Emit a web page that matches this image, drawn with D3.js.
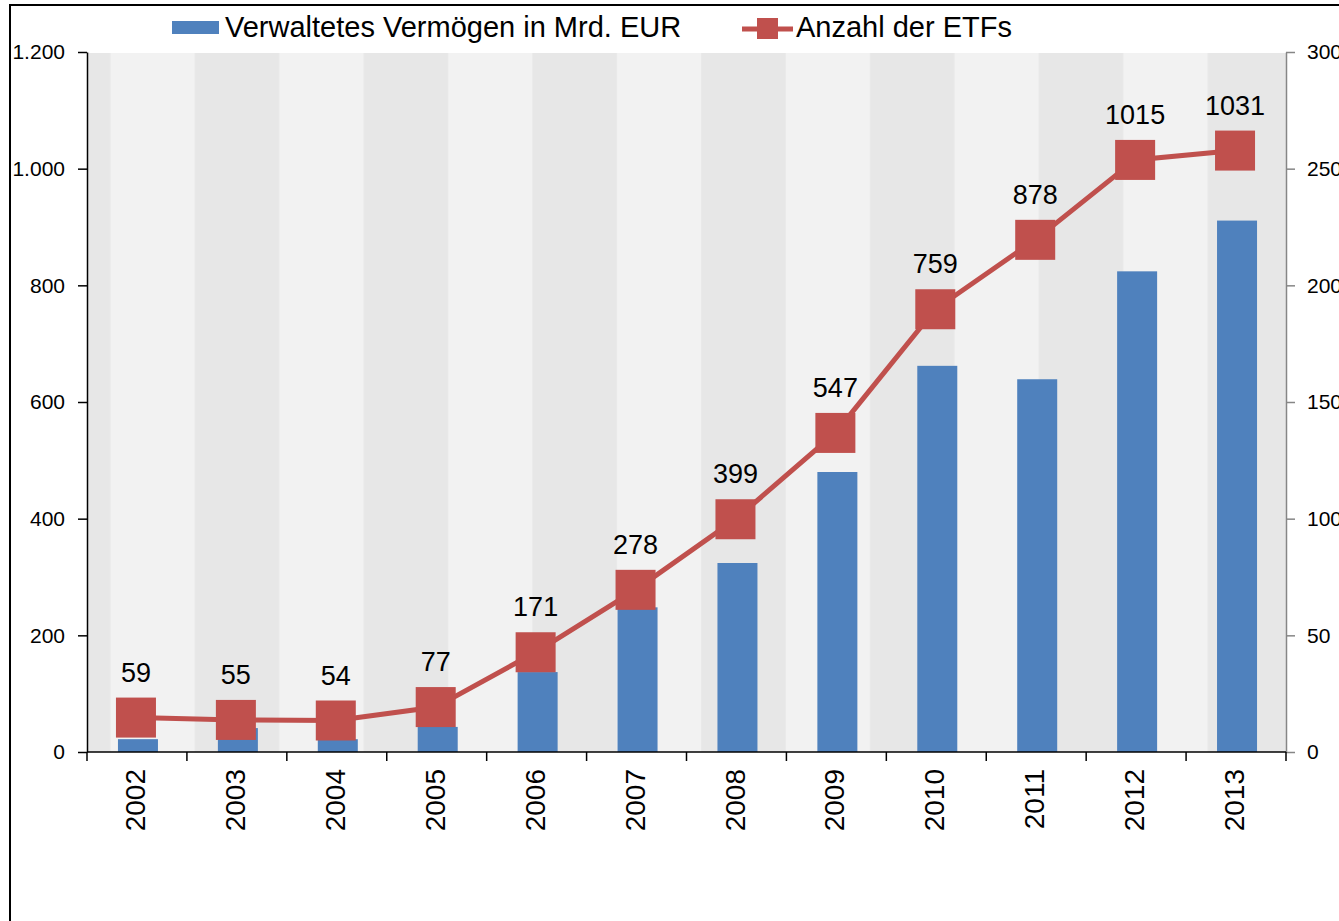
<!DOCTYPE html>
<html>
<head>
<meta charset="utf-8">
<script src="https://cdn.jsdelivr.net/npm/d3@7"></script>
<style>
  html, body { margin: 0; padding: 0; background: #fff; overflow: hidden; }
  text { font-family: Arial, "Liberation Sans", sans-serif; }
</style>
</head>
<body>
<div id="chart"></div>
<script>
const years = ['2002', '2003', '2004', '2005', '2006', '2007', '2008', '2009', '2010', '2011', '2012', '2013']
const assets = [22, 41, 22, 43, 137, 248, 324, 480, 662, 639, 824, 911]
const etfCount = [59, 55, 54, 77, 171, 278, 399, 547, 759, 878, 1015, 1031]
const leftTicks = [0, 200, 400, 600, 800, 1000, 1200]
const rightTicks = [0, 50, 100, 150, 200, 250, 300]

const width = 1339
const height = 921
const margin = { top: 52, right: 53, bottom: 169, left: 87 }
const plotW = width - margin.left - margin.right
const plotH = height - margin.top - margin.bottom

const blue = '#4f81bd'
const red = '#c0504d'

const svg = d3.select('#chart')
  .append('svg')
  .attr('width', width)
  .attr('height', height)

// outer frame (right and bottom edges run off the page)
svg.append('rect')
  .attr('x', 10)
  .attr('y', 5)
  .attr('width', width)
  .attr('height', height)
  .attr('fill', 'none')
  .attr('stroke', '#000')
  .attr('stroke-width', 2)

// striped plot background
const defs = svg.append('defs')
const stripes = defs.append('pattern')
  .attr('id', 'stripes')
  .attr('patternUnits', 'userSpaceOnUse')
  .attr('x', 110.7)
  .attr('y', 0)
  .attr('width', 168.8)
  .attr('height', 10)
stripes.append('rect').attr('width', 84.4).attr('height', 10).attr('fill', '#f2f2f2')
stripes.append('rect').attr('x', 84.4).attr('width', 84.4).attr('height', 10).attr('fill', '#e7e7e7')
stripes.append('rect').attr('x', 83.9).attr('width', 1).attr('height', 10).attr('fill', '#e9e9e9')
stripes.append('rect').attr('x', 168.3).attr('width', 1).attr('height', 10).attr('fill', '#ebebeb')

svg.append('rect')
  .attr('x', margin.left)
  .attr('y', margin.top + 1)
  .attr('width', plotW)
  .attr('height', plotH - 1)
  .attr('fill', 'url(#stripes)')

const g = svg.append('g')
  .attr('transform', `translate(${margin.left}, ${margin.top})`)

const xScale = d3.scaleBand()
  .domain(years)
  .range([0, plotW])
  .padding(0)

const yScale = d3.scaleLinear()
  .domain([0, 1200])
  .range([plotH, 0])

const yRight = d3.scaleLinear()
  .domain([0, 300])
  .range([plotH, 0])

const de = d3.formatLocale({ decimal: ',', thousands: '.', grouping: [3], currency: ['', ' €'] })
const fmt = de.format(',')

// bars
const barW = 40
g.selectAll('.bar')
  .data(years)
  .enter()
  .append('rect')
  .attr('class', 'bar')
  .attr('x', d => xScale(d) + xScale.bandwidth() / 2 - barW / 2 + 1)
  .attr('y', (d, i) => yScale(assets[i]))
  .attr('width', barW)
  .attr('height', (d, i) => plotH - yScale(assets[i]))
  .attr('fill', blue)

// left axis
const leftAxis = g.append('g')
  .call(d3.axisLeft(yScale).tickValues(leftTicks).tickFormat(fmt).tickSize(9).tickPadding(13).tickSizeOuter(0))
leftAxis.select('.domain').attr('stroke', '#000').attr('stroke-width', 1.5)
leftAxis.selectAll('.tick line').attr('stroke', '#000').attr('stroke-width', 1.5)
leftAxis.selectAll('.tick text').attr('font-size', 21).attr('fill', '#000')

// right axis
const rightAxis = g.append('g')
  .attr('transform', `translate(${plotW}, 0)`)
  .call(d3.axisRight(yRight).tickValues(rightTicks).tickSize(9).tickPadding(12).tickSizeOuter(0))
rightAxis.select('.domain').attr('stroke', '#868686').attr('stroke-width', 1.5)
rightAxis.selectAll('.tick line').attr('stroke', '#868686').attr('stroke-width', 1.5)
rightAxis.selectAll('.tick text').attr('font-size', 21).attr('fill', '#000')

// x axis with ticks on band edges
const xAxis = g.append('g')
  .attr('transform', `translate(0, ${plotH})`)
xAxis.append('line')
  .attr('x1', 0)
  .attr('x2', plotW)
  .attr('stroke', '#000')
  .attr('stroke-width', 1.5)
xAxis.selectAll('.edge')
  .data(years.concat(['end']))
  .enter()
  .append('line')
  .attr('class', 'edge')
  .attr('x1', d => d === 'end' ? plotW : xScale(d))
  .attr('x2', d => d === 'end' ? plotW : xScale(d))
  .attr('y1', 0)
  .attr('y2', 9)
  .attr('stroke', '#000')
  .attr('stroke-width', 1.5)
xAxis.selectAll('.year')
  .data(years)
  .enter()
  .append('text')
  .attr('class', 'year')
  .attr('transform', d => `translate(${xScale(d) + xScale.bandwidth() / 2 - 2}, 17) rotate(-90)`)
  .attr('text-anchor', 'end')
  .attr('dy', '0.36em')
  .attr('font-size', 28)
  .attr('fill', '#000')
  .text(d => d)

// line
const cx = d => xScale(d) + xScale.bandwidth() / 2 - 1
const line = d3.line()
  .x(d => cx(d))
  .y((d, i) => yScale(etfCount[i]))
g.append('path')
  .datum(years)
  .attr('d', line)
  .attr('fill', 'none')
  .attr('stroke', red)
  .attr('stroke-width', 5)

const mk = 40
g.selectAll('.marker')
  .data(years)
  .enter()
  .append('rect')
  .attr('class', 'marker')
  .attr('x', d => cx(d) - mk / 2)
  .attr('y', (d, i) => yScale(etfCount[i]) - mk / 2)
  .attr('width', mk)
  .attr('height', mk)
  .attr('fill', red)

g.selectAll('.label')
  .data(years)
  .enter()
  .append('text')
  .attr('class', 'label')
  .attr('x', d => cx(d))
  .attr('y', (d, i) => yScale(etfCount[i]) - 36)
  .attr('text-anchor', 'middle')
  .attr('font-size', 27)
  .attr('fill', '#000')
  .text((d, i) => etfCount[i])

// legend
const legend = svg.append('g')
legend.append('rect')
  .attr('x', 172)
  .attr('y', 21)
  .attr('width', 47)
  .attr('height', 13)
  .attr('fill', blue)
legend.append('text')
  .attr('x', 225)
  .attr('y', 37)
  .attr('font-size', 29)
  .attr('fill', '#000')
  .text('Verwaltetes Vermögen in Mrd. EUR')
legend.append('line')
  .attr('x1', 742)
  .attr('x2', 793)
  .attr('y1', 29)
  .attr('y2', 29)
  .attr('stroke', red)
  .attr('stroke-width', 5)
legend.append('rect')
  .attr('x', 757)
  .attr('y', 18)
  .attr('width', 21)
  .attr('height', 21)
  .attr('fill', red)
legend.append('text')
  .attr('x', 796)
  .attr('y', 37)
  .attr('font-size', 29)
  .attr('fill', '#000')
  .text('Anzahl der ETFs')
</script>
</body>
</html>
